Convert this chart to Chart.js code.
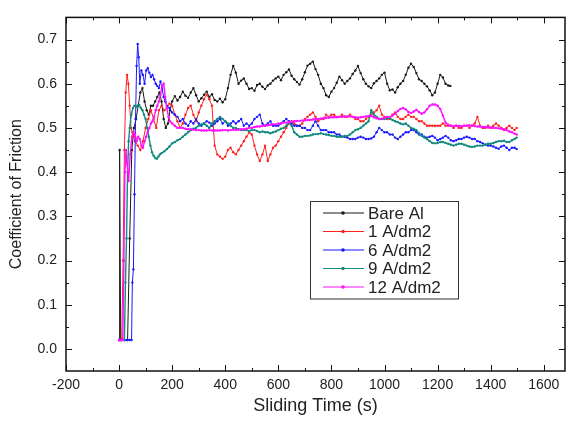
<!DOCTYPE html>
<html>
<head>
<meta charset="utf-8">
<title>Coefficient of Friction vs Sliding Time</title>
<script src="https://cdn.jsdelivr.net/npm/chart.js@4.4.1/dist/chart.umd.min.js"></script>
<style>
  html, body { margin: 0; padding: 0; background: #fff; }
  canvas { display: block; }
</style>
</head>
<body>
<canvas id="cofChart" width="569" height="421"></canvas>
<script>
// Axis ticks
const xTicks = [-200, 0, 200, 400, 600, 800, 1000, 1200, 1400, 1600];
const yTicks = [0.0, 0.1, 0.2, 0.3, 0.4, 0.5, 0.6, 0.7];

// Legend labels and colours
const seriesLabels = ['Bare Al', '1 A/dm2', '6 A/dm2', '9 A/dm2', '12 A/dm2'];
const seriesColors = ['#1a1a1a', '#ff2020', '#1818ff', '#128a7e', '#ff10ff'];

// Bare Al
const bareAlTime = [0, 2, 6, 20, 32, 40, 48, 56, 64, 72, 80, 88, 96, 104, 112, 120, 128, 136, 144, 152, 160, 168, 176, 184, 192,
  200, 210, 220, 230, 240, 250, 260, 270, 280, 290,
  300, 310, 320, 330, 340, 350, 360, 370, 380, 390,
  400, 410, 420, 430, 440, 450, 460, 470, 480, 490,
  500, 510, 520, 530, 540, 550, 560, 570, 580, 590,
  600, 610, 620, 630, 640, 650, 660, 670, 680, 690,
  700, 710, 720, 730, 740, 750, 760, 770, 780, 790,
  800, 810, 820, 830, 840, 850, 860, 870, 880, 890,
  900, 910, 920, 930, 940, 950, 960, 970, 980, 990,
  1000, 1010, 1020, 1030, 1040, 1050, 1060, 1070, 1080, 1090,
  1100, 1110, 1120, 1130, 1140, 1150, 1160, 1170, 1180, 1190,
  1200, 1210, 1220, 1230, 1240, 1248];
const bareAlCof = [0.02, 0.45, 0.02, 0.02, 0.02, 0.25, 0.45, 0.50, 0.52, 0.55, 0.58, 0.59, 0.56, 0.54, 0.53, 0.55, 0.55, 0.56, 0.57, 0.58, 0.56, 0.52, 0.50, 0.51, 0.54,
  0.56, 0.572, 0.562, 0.57, 0.582, 0.573, 0.568, 0.58, 0.59, 0.574,
  0.56, 0.567, 0.575, 0.582, 0.57, 0.576, 0.563, 0.56, 0.566, 0.558,
  0.565, 0.59, 0.62, 0.64, 0.625, 0.60, 0.607, 0.612, 0.60, 0.588,
  0.59, 0.584, 0.597, 0.60, 0.593, 0.588, 0.596, 0.60, 0.607, 0.612,
  0.616, 0.608, 0.62, 0.626, 0.632, 0.618, 0.61, 0.604, 0.598, 0.61,
  0.626, 0.641, 0.645, 0.65, 0.633, 0.62, 0.60, 0.59, 0.574, 0.57,
  0.582, 0.59, 0.602, 0.616, 0.608, 0.60, 0.606, 0.612, 0.622, 0.63,
  0.64, 0.624, 0.61, 0.60, 0.594, 0.59, 0.601, 0.606, 0.612, 0.62,
  0.625, 0.60, 0.585, 0.587, 0.58, 0.592, 0.60, 0.606, 0.62, 0.636,
  0.645, 0.638, 0.624, 0.61, 0.606, 0.60, 0.594, 0.585, 0.574, 0.58,
  0.60, 0.62, 0.614, 0.60, 0.596, 0.595];

// 1 A/dm2
const oneTime = [0, 5, 10, 15, 20, 25, 30, 35, 40, 45, 50, 55, 60, 70, 80, 90, 100, 110, 120, 130, 140, 150, 160, 170, 180, 190,
  200, 210, 220, 230, 240, 250, 260, 270, 280, 290,
  300, 310, 320, 330, 340, 350, 360, 370, 380, 390,
  400, 410, 420, 430, 440, 450, 460, 470, 480, 490,
  500, 510, 520, 530, 540, 550, 560, 570, 580, 590,
  600, 610, 620, 630, 640, 650, 660, 670, 680, 690,
  700, 710, 720, 730, 740, 750, 760, 770, 780, 790,
  800, 810, 820, 830, 840, 850, 860, 870, 880, 890,
  900, 910, 920, 930, 940, 950, 960, 970, 980, 990,
  1000, 1010, 1020, 1030, 1040, 1050, 1060, 1070, 1080, 1090,
  1100, 1110, 1120, 1130, 1140, 1150, 1160, 1170, 1180, 1190,
  1200, 1210, 1220, 1230, 1240, 1250, 1260, 1270, 1280, 1290,
  1300, 1310, 1320, 1330, 1340, 1350, 1360, 1370, 1380, 1390,
  1400, 1410, 1420, 1430, 1440, 1450, 1460, 1470, 1480, 1490, 1498];
const oneCof = [0.02, 0.02, 0.02, 0.20, 0.45, 0.58, 0.62, 0.60, 0.55, 0.50, 0.49, 0.48, 0.47, 0.46, 0.45, 0.47, 0.50, 0.52, 0.54, 0.52, 0.50, 0.54, 0.55, 0.54, 0.545, 0.555,
  0.55, 0.53, 0.515, 0.50, 0.51, 0.53, 0.545, 0.55, 0.53, 0.515,
  0.535, 0.55, 0.565, 0.575, 0.565, 0.55, 0.46, 0.44, 0.435, 0.43,
  0.435, 0.45, 0.455, 0.445, 0.44, 0.45, 0.46, 0.47, 0.48, 0.49,
  0.485, 0.46, 0.44, 0.425, 0.44, 0.46, 0.425, 0.44, 0.455, 0.46,
  0.47, 0.48, 0.49, 0.50, 0.51, 0.515, 0.51, 0.505, 0.505, 0.51,
  0.52, 0.525, 0.53, 0.535, 0.525, 0.515, 0.52, 0.52, 0.53, 0.525,
  0.53, 0.53, 0.525, 0.525, 0.53, 0.525, 0.525, 0.53, 0.525, 0.52,
  0.52, 0.515, 0.515, 0.52, 0.525, 0.53, 0.535, 0.54, 0.55, 0.53,
  0.525, 0.52, 0.52, 0.53, 0.535, 0.525, 0.52, 0.52, 0.525, 0.53,
  0.525, 0.525, 0.52, 0.515, 0.515, 0.51, 0.505, 0.505, 0.505, 0.505,
  0.505, 0.505, 0.51, 0.505, 0.505, 0.505, 0.50, 0.505, 0.50, 0.50,
  0.505, 0.505, 0.50, 0.505, 0.51, 0.525, 0.505, 0.50, 0.50, 0.505,
  0.50, 0.505, 0.51, 0.505, 0.50, 0.495, 0.50, 0.505, 0.50, 0.495, 0.50];

// 6 A/dm2
const sixTime = [0, 10, 20, 30, 40, 47, 50, 54, 58, 62, 66, 70, 74, 78, 84, 90, 96, 102, 108, 114, 120, 126, 132, 138,
  144, 150, 156, 162, 168, 174, 180, 190, 200, 210, 220, 230, 240,
  250, 260, 270, 280, 290,
  300, 310, 320, 330, 340, 350, 360, 370, 380, 390,
  400, 410, 420, 430, 440, 450, 460, 470, 480, 490,
  500, 510, 520, 530, 540, 550, 560, 570, 580, 590,
  600, 610, 620, 630, 640, 650, 660, 670, 680, 690,
  700, 710, 720, 730, 740, 750, 760, 770, 780, 790,
  800, 810, 820, 830, 840, 850, 860, 870, 880, 890,
  900, 910, 920, 930, 940, 950, 960, 970, 980, 990,
  1000, 1010, 1020, 1030, 1040, 1050, 1060, 1070, 1080, 1090,
  1100, 1110, 1120, 1130, 1140, 1150, 1160, 1170, 1180, 1190,
  1200, 1210, 1220, 1230, 1240, 1250, 1260, 1270, 1280, 1290,
  1300, 1310, 1320, 1330, 1340, 1350, 1360, 1370, 1380, 1390,
  1400, 1410, 1420, 1430, 1440, 1450, 1460, 1470, 1480, 1490, 1498];
const sixCof = [0.02, 0.02, 0.02, 0.02, 0.02, 0.02, 0.15, 0.18, 0.35, 0.52, 0.64, 0.69, 0.66, 0.60, 0.63, 0.62, 0.60, 0.63, 0.635, 0.625, 0.615, 0.62, 0.61, 0.60,
  0.595, 0.59, 0.605, 0.59, 0.57, 0.56, 0.55, 0.545, 0.535, 0.53, 0.525, 0.515, 0.52,
  0.51, 0.505, 0.515, 0.51, 0.52,
  0.51, 0.505, 0.51, 0.515, 0.512, 0.505, 0.51, 0.515, 0.52, 0.51,
  0.515, 0.505, 0.51, 0.515, 0.51, 0.515, 0.52, 0.505, 0.51, 0.505,
  0.51, 0.52, 0.525, 0.53, 0.51, 0.505, 0.51, 0.515, 0.505, 0.505,
  0.505, 0.51, 0.515, 0.52, 0.515, 0.51, 0.505, 0.505, 0.505, 0.50,
  0.50, 0.495, 0.495, 0.505, 0.515, 0.505, 0.495, 0.495, 0.495, 0.49,
  0.49, 0.49, 0.485, 0.485, 0.48, 0.48, 0.478, 0.475, 0.475, 0.475,
  0.478, 0.48, 0.478, 0.475, 0.475, 0.476, 0.48, 0.49, 0.50, 0.495,
  0.49, 0.49, 0.485, 0.485, 0.478, 0.475, 0.48, 0.485, 0.49, 0.49,
  0.495, 0.495, 0.49, 0.485, 0.485, 0.48, 0.478, 0.48, 0.482, 0.478,
  0.472, 0.475, 0.478, 0.482, 0.478, 0.472, 0.47, 0.472, 0.475, 0.475,
  0.478, 0.48, 0.478, 0.475, 0.475, 0.47, 0.468, 0.465, 0.462, 0.46,
  0.46, 0.458, 0.455, 0.453, 0.458, 0.46, 0.455, 0.45, 0.455, 0.455, 0.452];

// 9 A/dm2
const nineTime = [0, 10, 20, 24, 28, 32, 36, 40, 46, 52, 58, 64, 70, 76, 82, 88, 94, 100, 106, 112,
  118, 124, 130, 136, 142, 148, 154, 160, 170, 180, 190,
  200, 210, 220, 230, 240, 250, 260, 270, 280, 290,
  300, 310, 320, 330, 340, 350, 360, 370, 380, 390,
  400, 410, 420, 430, 440, 450, 460, 470, 480, 490,
  500, 510, 520, 530, 540, 550, 560, 570, 580, 590,
  600, 610, 620, 630, 640, 650, 660, 670, 680, 690,
  700, 710, 720, 730, 740, 750, 760, 770, 780, 790,
  800, 810, 820, 830, 840, 850, 860, 870, 880, 890,
  900, 910, 920, 930, 940, 950, 960, 970, 980, 990,
  1000, 1010, 1020, 1030, 1040, 1050, 1060, 1070, 1080, 1090,
  1100, 1110, 1120, 1130, 1140, 1150, 1160, 1170, 1180, 1190,
  1200, 1210, 1220, 1230, 1240, 1250, 1260, 1270, 1280, 1290,
  1300, 1310, 1320, 1330, 1340, 1350, 1360, 1370, 1380, 1390,
  1400, 1410, 1420, 1430, 1440, 1450, 1460, 1470, 1480, 1490, 1498];
const nineCof = [0.02, 0.02, 0.02, 0.15, 0.25, 0.40, 0.47, 0.50, 0.53, 0.545, 0.55, 0.548, 0.55, 0.552, 0.545, 0.54, 0.53, 0.52, 0.50, 0.48,
  0.46, 0.445, 0.437, 0.432, 0.43, 0.435, 0.44, 0.443, 0.447, 0.452, 0.458,
  0.465, 0.468, 0.472, 0.475, 0.48, 0.485, 0.49, 0.495, 0.498, 0.50,
  0.505, 0.508, 0.51, 0.505, 0.50, 0.51, 0.515, 0.52, 0.525, 0.52,
  0.515, 0.51, 0.505, 0.50, 0.50, 0.497, 0.495, 0.495, 0.495, 0.493,
  0.495, 0.495, 0.493, 0.49, 0.492, 0.49, 0.49, 0.488, 0.49, 0.492,
  0.495, 0.498, 0.50, 0.505, 0.512, 0.505, 0.49, 0.485, 0.48, 0.48,
  0.482, 0.482, 0.483, 0.485, 0.486, 0.486, 0.488, 0.486, 0.485, 0.484,
  0.482, 0.482, 0.48, 0.48, 0.48, 0.482, 0.482, 0.485, 0.49, 0.495,
  0.497, 0.50, 0.505, 0.51, 0.515, 0.54, 0.53, 0.525, 0.52, 0.52,
  0.52, 0.522, 0.523, 0.518, 0.515, 0.513, 0.51, 0.508, 0.51, 0.505,
  0.50, 0.498, 0.495, 0.488, 0.482, 0.478, 0.475, 0.47, 0.466, 0.465,
  0.466, 0.468, 0.468, 0.466, 0.464, 0.462, 0.46, 0.462, 0.464, 0.464,
  0.462, 0.46, 0.458, 0.457, 0.458, 0.46, 0.46, 0.46, 0.462, 0.464,
  0.464, 0.466, 0.468, 0.47, 0.47, 0.471, 0.468, 0.468, 0.472, 0.475, 0.478];

// 12 A/dm2
const twelveTime = [0, 8, 14, 18, 22, 26, 30, 36, 42, 48, 54, 60, 66, 72, 78, 84, 90, 96, 102, 108,
  114, 120, 126, 132, 138, 144, 150, 156, 162, 168, 174, 180, 186, 192,
  200, 210, 220, 230, 240, 250, 260, 270, 280, 290,
  300, 310, 320, 330, 340, 350, 360, 370, 380, 390,
  400, 410, 420, 430, 440, 450, 460, 470, 480, 490,
  500, 510, 520, 530, 540, 550, 560, 570, 580, 590,
  600, 610, 620, 630, 640, 650, 660, 670, 680, 690,
  700, 710, 720, 730, 740, 750, 760, 770, 780, 790,
  800, 810, 820, 830, 840, 850, 860, 870, 880, 890,
  900, 910, 920, 930, 940, 950, 960, 970, 980, 990,
  1000, 1010, 1020, 1030, 1040, 1050, 1060, 1070, 1080, 1090,
  1100, 1110, 1120, 1130, 1140, 1150, 1160, 1170, 1180, 1190,
  1200, 1210, 1220, 1230, 1240, 1250, 1260, 1270, 1280, 1290,
  1300, 1310, 1320, 1330, 1340, 1350, 1360, 1370, 1380, 1390,
  1400, 1410, 1420, 1430, 1440, 1450, 1460, 1470, 1480, 1490, 1498];
const twelveCof = [0.02, 0.02, 0.02, 0.20, 0.40, 0.45, 0.42, 0.38, 0.44, 0.48, 0.49, 0.485, 0.47, 0.48, 0.475, 0.46, 0.455, 0.47, 0.48, 0.49,
  0.50, 0.51, 0.515, 0.525, 0.54, 0.55, 0.56, 0.575, 0.595, 0.60, 0.57, 0.545, 0.525, 0.515,
  0.51, 0.505, 0.50, 0.50, 0.50, 0.498, 0.497, 0.497, 0.496, 0.495,
  0.495, 0.494, 0.494, 0.494, 0.495, 0.494, 0.494, 0.494, 0.494, 0.495,
  0.495, 0.494, 0.495, 0.496, 0.495, 0.496, 0.497, 0.497, 0.498, 0.50,
  0.50, 0.502, 0.503, 0.503, 0.505, 0.505, 0.506, 0.507, 0.508, 0.508,
  0.51, 0.51, 0.512, 0.512, 0.513, 0.514, 0.515, 0.516, 0.516, 0.517,
  0.517, 0.518, 0.518, 0.519, 0.52, 0.52, 0.521, 0.522, 0.523, 0.523,
  0.524, 0.524, 0.524, 0.525, 0.525, 0.526, 0.526, 0.526, 0.525, 0.524,
  0.523, 0.524, 0.525, 0.526, 0.527, 0.527, 0.524, 0.522, 0.52, 0.521,
  0.523, 0.525, 0.525, 0.528, 0.532, 0.538, 0.543, 0.545, 0.542, 0.536,
  0.534, 0.537, 0.541, 0.536, 0.532, 0.535, 0.542, 0.55, 0.553, 0.553,
  0.55, 0.543, 0.528, 0.512, 0.507, 0.505, 0.504, 0.505, 0.505, 0.504,
  0.505, 0.505, 0.506, 0.505, 0.504, 0.503, 0.503, 0.502, 0.502, 0.501,
  0.501, 0.50, 0.50, 0.499, 0.498, 0.497, 0.495, 0.492, 0.49, 0.487, 0.485];

const seriesTimes = [bareAlTime, oneTime, sixTime, nineTime, twelveTime];
const seriesCofs = [bareAlCof, oneCof, sixCof, nineCof, twelveCof];

const fontFamily = '"Liberation Sans", Arial, sans-serif';

// Box frame with inward major/minor ticks on all four sides
const frameTicks = {
  id: 'frameTicks',
  afterDraw(chart) {
    const { ctx, chartArea: a, scales: { x, y } } = chart;
    ctx.save();
    ctx.strokeStyle = '#111';
    ctx.lineWidth = 1;
    ctx.beginPath();
    xTicks.forEach(v => {
      const px = Math.round(x.getPixelForValue(v)) + 0.5;
      ctx.moveTo(px, a.bottom); ctx.lineTo(px, a.bottom - 6);
      ctx.moveTo(px, a.top); ctx.lineTo(px, a.top + 6);
      const m = v + 100;
      if (m < x.max) {
        const pm = Math.round(x.getPixelForValue(m)) + 0.5;
        ctx.moveTo(pm, a.bottom); ctx.lineTo(pm, a.bottom - 3);
        ctx.moveTo(pm, a.top); ctx.lineTo(pm, a.top + 3);
      }
    });
    yTicks.forEach(v => {
      const py = Math.round(y.getPixelForValue(v)) + 0.5;
      ctx.moveTo(a.left, py); ctx.lineTo(a.left + 6, py);
      ctx.moveTo(a.right, py); ctx.lineTo(a.right - 6, py);
      const m = v + 0.05;
      if (m < y.max - 0.001) {
        const pm = Math.round(y.getPixelForValue(m)) + 0.5;
        ctx.moveTo(a.left, pm); ctx.lineTo(a.left + 3, pm);
        ctx.moveTo(a.right, pm); ctx.lineTo(a.right - 3, pm);
      }
    });
    ctx.stroke();
    ctx.lineWidth = 1.5;
    ctx.strokeRect(a.left, a.top, a.right - a.left, a.bottom - a.top);
    ctx.restore();
  }
};

// Legend box inside the plot, like the original
const boxLegend = {
  id: 'boxLegend',
  afterDraw(chart) {
    const ctx = chart.ctx;
    const left = 310, top = 201, width = 148, rowH = 18.5;
    const n = chart.data.datasets.length;
    ctx.save();
    ctx.fillStyle = '#fff';
    ctx.fillRect(left, top, width, rowH * n + 5);
    ctx.strokeStyle = '#333';
    ctx.lineWidth = 1;
    ctx.strokeRect(left + 0.5, top + 0.5, width, rowH * n + 5);
    ctx.font = '17px ' + fontFamily;
    ctx.textBaseline = 'middle';
    chart.data.datasets.forEach((ds, i) => {
      const cy = top + 12 + i * rowH;
      ctx.strokeStyle = ds.borderColor;
      ctx.beginPath();
      ctx.moveTo(left + 13, cy); ctx.lineTo(left + 54, cy);
      ctx.stroke();
      ctx.fillStyle = ds.borderColor;
      ctx.beginPath();
      ctx.arc(left + 33, cy, 1.8, 0, Math.PI * 2);
      ctx.fill();
      ctx.fillStyle = '#222';
      ctx.fillText(ds.label, left + 58, cy + 1);
    });
    ctx.restore();
  }
};

const datasets = seriesLabels.map((label, i) => ({
  label: label,
  data: seriesTimes[i].map((t, j) => ({ x: t, y: seriesCofs[i][j] })),
  borderColor: seriesColors[i],
  backgroundColor: seriesColors[i],
  borderWidth: i >= 3 ? 1.4 : 1,
  pointRadius: 1.2,
  pointBorderWidth: 0,
  pointBackgroundColor: seriesColors[i],
  tension: 0,
  fill: false,
  order: 4 - i
}));

const ctx = document.getElementById('cofChart').getContext('2d');
new Chart(ctx, {
  type: 'line',
  data: { datasets: datasets },
  options: {
    responsive: false,
    animation: false,
    devicePixelRatio: 1,
    layout: { padding: { top: 11, right: 1, left: 0, bottom: 0 } },
    plugins: {
      legend: { display: false },
      tooltip: { enabled: false }
    },
    scales: {
      x: {
        type: 'linear',
        min: -200,
        max: 1680,
        afterBuildTicks: scale => { scale.ticks = xTicks.map(v => ({ value: v })); },
        afterFit: scale => { scale.height = 50; },
        grid: { display: false, drawTicks: false },
        border: { display: false },
        ticks: {
          padding: 6,
          maxRotation: 0,
          color: '#222',
          font: { family: fontFamily, size: 14 },
          callback: v => String(v)
        },
        title: {
          display: true,
          text: 'Sliding Time (s)',
          color: '#222',
          font: { family: fontFamily, size: 18 },
          padding: { top: 0, bottom: 4 }
        }
      },
      y: {
        type: 'linear',
        min: -0.05,
        max: 0.75,
        afterBuildTicks: scale => { scale.ticks = yTicks.map(v => ({ value: v })); },
        afterFit: scale => { scale.width = 66; },
        grid: { display: false, drawTicks: false },
        border: { display: false },
        ticks: {
          padding: 9,
          color: '#222',
          font: { family: fontFamily, size: 14 },
          callback: v => Number(v).toFixed(1)
        },
        title: {
          display: true,
          text: 'Coefficient of Friction',
          color: '#222',
          font: { family: fontFamily, size: 16 },
          padding: { top: 7, bottom: 0 }
        }
      }
    }
  },
  plugins: [frameTicks, boxLegend]
});
</script>
</body>
</html>
